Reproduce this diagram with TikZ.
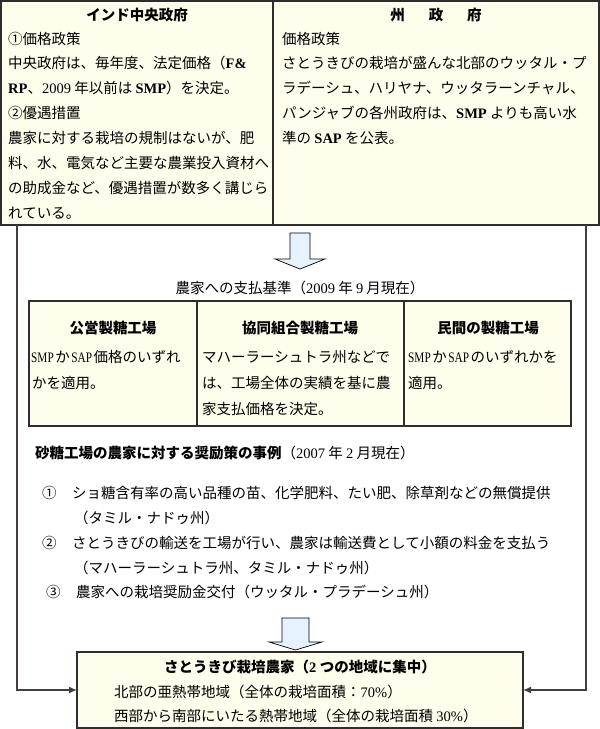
\documentclass[tikz,border=0pt]{standalone}
\usepackage{fontspec}
\usepackage{graphicx}
\setmainfont{Noto Sans CJK JP}
\newfontfamily\lat{Liberation Serif}
\usetikzlibrary{arrows.meta}
\newcommand\bodyf{\fontsize{14.5}{17}\selectfont}
\newcommand\Lr[1]{{\lat #1}}
\newcommand\Lb[1]{{\lat\bfseries #1}}
\newcommand\Lc[1]{\hspace{1.5pt}\scalebox{0.78}[1]{\lat #1}\hspace{1.5pt}}
\definecolor{cream}{RGB}{255,253,236}
\definecolor{boxline}{RGB}{50,45,45}
\definecolor{connline}{RGB}{70,62,62}
\definecolor{arrowblue}{RGB}{230,242,255}
\begin{document}
\begin{tikzpicture}[x=1pt,y=-1pt,
  box/.style={draw=boxline, fill=cream, line width=1.1pt, inner sep=0pt, outer sep=0pt, anchor=north west},
  txt/.style={inner sep=0pt, anchor=west, font=\bodyf},
  ttl/.style={inner sep=0pt, anchor=center, font=\bodyf\bfseries},
  conn/.style={draw=connline, line width=1.4pt, -{Latex[length=8pt,width=7pt]}},
  blockarrow/.style={draw=black, line width=0.7pt, fill=arrowblue, line join=miter}]
\useasboundingbox[fill=white] (0,0) rectangle (600,729);

% top boxes
\node[box, minimum width=272pt, minimum height=224pt] (cg) at (1,1) {};
\node[box, minimum width=326pt, minimum height=224pt] (sg) at (273,1) {};

\node[ttl] (cgT) at (137,15) {インド中央政府};
\node[txt] (cg1) at (8,39) {①価格政策};
\node[txt] (cg2) at (8,63) {中央政府は、毎年度、法定価格（\Lb{F\&}};
\node[txt] (cg3) at (8,88) {\Lb{RP}、\Lr{2009} 年以前は \Lb{SMP}）を決定。};
\node[txt] (cg4) at (8,113) {②優遇措置};
\node[txt] (cg5) at (8,138) {農家に対する栽培の規制はないが、肥};
\node[txt] (cg6) at (8,163) {料、水、電気など主要な農業投入資材へ};
\node[txt] (cg7) at (8,188) {の助成金など、優遇措置が数多く講じら};
\node[txt] (cg8) at (8,213) {れている。};

\node[ttl] (sgT) at (436,15) {州\hspace{24pt}政\hspace{24pt}府};
\node[txt] (sg1) at (282,39) {価格政策};
\node[txt] (sg2) at (282,63) {さとうきびの栽培が盛んな北部のウッタル・プ};
\node[txt] (sg3) at (282,88) {ラデーシュ、ハリヤナ、ウッタラーンチャル、};
\node[txt] (sg4) at (282,113) {パンジャブの各州政府は、\Lb{SMP} よりも高い水};
\node[txt] (sg5) at (282,138) {準の \Lb{SAP} を公表。};

% block arrow 1
\draw[blockarrow] (290,233) -- (310,233) -- (310,259) -- (325,259) -- (300,269) -- (275,259) -- (290,259) -- cycle;

\node[txt, anchor=center] (payT) at (300,288) {農家への支払基準（\Lr{2009} 年 \Lr{9} 月現在）};

% table
\node[box, minimum width=168pt, minimum height=125pt] (pub) at (29,301) {};
\node[box, minimum width=207pt, minimum height=125pt] (coop) at (197,301) {};
\node[box, minimum width=167pt, minimum height=125pt] (priv) at (404,301) {};

\node[ttl] (pubT) at (113,328) {公営製糖工場};
\node[ttl] (coopT) at (300,328) {協同組合製糖工場};
\node[ttl] (privT) at (488,328) {民間の製糖工場};

\node[txt] (pub1) at (31,357) {\hspace{-1.5pt}\Lc{SMP}か\Lc{SAP}価格のいずれ};
\node[txt] (pub2) at (32,383) {かを適用。};
\node[txt] (coop1) at (202,357) {マハーラーシュトラ州などで};
\node[txt] (coop2) at (202,383) {は、工場全体の実績を基に農};
\node[txt] (coop3) at (202,409) {家支払価格を決定。};
\node[txt] (priv1) at (408,357) {\hspace{-1.5pt}\Lc{SMP}か\Lc{SAP}のいずれかを};
\node[txt] (priv2) at (408,383) {適用。};

% incentives
\node[txt] (incT) at (35,453) {\textbf{砂糖工場の農家に対する奨励策の事例}（\Lr{2007} 年 \Lr{2} 月現在）};
\node[txt] (n1) at (42,493) {①};
\node[txt] (i1a) at (72,493) {ショ糖含有率の高い品種の苗、化学肥料、たい肥、除草剤などの無償提供};
\node[txt] (i1b) at (74,518) {（タミル・ナドゥ州）};
\node[txt] (n2) at (42,543) {②};
\node[txt] (i2a) at (72,543) {さとうきびの輸送を工場が行い、農家は輸送費として小額の料金を支払う};
\node[txt] (i2b) at (74,568) {（マハーラーシュトラ州、タミル・ナドゥ州）};
\node[txt] (n3) at (46,592) {③};
\node[txt] (i3a) at (76,592) {農家への栽培奨励金交付（ウッタル・プラデーシュ州）};

% block arrow 2
\draw[blockarrow] (282,618) -- (309,618) -- (309,642) -- (322,642) -- (295.5,650) -- (269,642) -- (282,642) -- cycle;

% bottom box
\node[box, minimum width=446pt, minimum height=76pt] (farm) at (77,652) {};
\node[ttl] (farmT) at (300,667) {さとうきび栽培農家（\Lr{2} つの地域に集中）};
\node[txt] (farm1) at (114,692) {北部の亜熱帯地域（全体の栽培面積：\Lr{70\%}）};
\node[txt] (farm2) at (114,716) {西部から南部にいたる熱帯地域（全体の栽培面積 \Lr{30\%}）};

% connectors
\draw[conn] (cg.south west) ++(16,0) |- (farm.west);
\draw[conn] (sg.south east) ++(-13,0) |- (farm.east);
\end{tikzpicture}
\end{document}
